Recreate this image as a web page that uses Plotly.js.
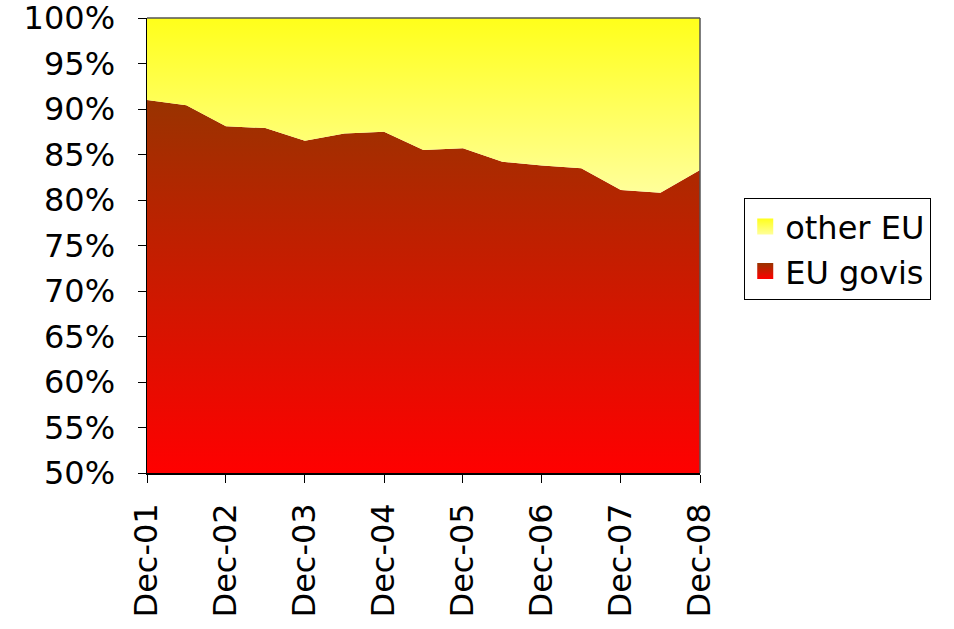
<!DOCTYPE html>
<html>
<head>
<meta charset="utf-8">
<script src="https://cdn.plot.ly/plotly-3.0.1.min.js"></script>
<style>html,body{margin:0;padding:0;background:#fff}</style>
</head>
<body>
<div id="chart" style="width:954px;height:629px"></div>
<script>
const periods = ['2001-12-01','2002-06-01','2002-12-01','2003-06-01','2003-12-01','2004-06-01','2004-12-01','2005-06-01','2005-12-01','2006-06-01','2006-12-01','2007-06-01','2007-12-01','2008-06-01','2008-12-01'];
const euGovis = [0.910, 0.904, 0.881, 0.879, 0.865, 0.873, 0.875, 0.855, 0.857, 0.842, 0.838, 0.835, 0.811, 0.808, 0.833];
const otherEU = euGovis.map(v => 1 - v);
const stackTop = euGovis.map((v, i) => v + otherEU[i]);
const tickDates = ['2001-12-01','2002-12-01','2003-12-01','2004-12-01','2005-12-01','2006-12-01','2007-12-01','2008-12-01'];
const tickLabels = ['Dec-01','Dec-02','Dec-03','Dec-04','Dec-05','Dec-06','Dec-07','Dec-08'];
const yTicks = [0.5,0.55,0.6,0.65,0.7,0.75,0.8,0.85,0.9,0.95,1.0];

const font = 'DejaVu Sans, Verdana, sans-serif';
const fs = 32;
const traces = [
  {
    x: periods, y: euGovis, name: 'EU govis', type: 'scatter', mode: 'lines',
    line: {width: 0, color: '#b02a00'}, fill: 'tozeroy',
    fillgradient: {type: 'vertical', start: 0.5, stop: 0.91,
      colorscale: [[0, '#ff0000'], [1, '#993300']]},
    hoverinfo: 'skip', showlegend: false
  },
  {
    x: periods, y: stackTop, name: 'other EU', type: 'scatter', mode: 'lines',
    line: {width: 0, color: '#ffff44'}, fill: 'tonexty',
    fillgradient: {type: 'vertical', start: 0.81, stop: 1.0,
      colorscale: [[0, '#ffff99'], [1, '#ffff1a']]},
    hoverinfo: 'skip', showlegend: false
  },
  // legend swatches (no data points)
  {
    x: [null], y: [null], name: 'EU govis', type: 'scatter', mode: 'markers',
    marker: {symbol: 'square', size: 22, color: '#993300',
      gradient: {type: 'vertical', color: '#ff0000'}, line: {width: 0}},
    hoverinfo: 'skip'
  },
  {
    x: [null], y: [null], name: 'other EU', type: 'scatter', mode: 'markers',
    marker: {symbol: 'square', size: 22, color: '#ffff1a',
      gradient: {type: 'vertical', color: '#ffff99'}, line: {width: 0}},
    hoverinfo: 'skip'
  }
];

const layout = {
  width: 954, height: 629,
  margin: {l: 147, r: 254, t: 18, b: 156, pad: 0},
  paper_bgcolor: '#ffffff', plot_bgcolor: '#ffffff',
  font: {family: font, size: fs, color: '#000'},
  showlegend: true,
  legend: {
    x: 1.08, y: 0.604, xanchor: 'left', yanchor: 'top',
    bgcolor: '#ffffff', bordercolor: '#000', borderwidth: 1,
    traceorder: 'reversed', font: {family: font, size: fs, color: '#000'},
    itemsizing: 'trace', tracegroupgap: 0, itemwidth: 30
  },
  xaxis: {
    type: 'date', range: [periods[0], periods[periods.length - 1]],
    tickmode: 'array', tickvals: tickDates, ticktext: tickLabels,
    tickangle: -90, ticks: 'outside', ticklen: 8, tickcolor: '#000',
    ticklabelstandoff: 8, ticklabeloverflow: 'allow',
    showline: true, linecolor: '#000', linewidth: 1.5, mirror: false,
    showgrid: false, zeroline: false,
    tickfont: {family: font, size: fs, color: '#000'}
  },
  yaxis: {
    range: [0.5, 1.0], tickmode: 'array', tickvals: yTicks,
    tickformat: '.0%', ticks: 'outside', ticklen: 8, tickcolor: '#000',
    ticklabelstandoff: 16, ticklabeloverflow: 'allow',
    showline: true, linecolor: '#000', linewidth: 1.5, mirror: false,
    showgrid: false, zeroline: false,
    tickfont: {family: font, size: fs, color: '#000'}
  },
  shapes: [
    {type: 'line', xref: 'paper', yref: 'paper', x0: 0, x1: 1, y0: 1, y1: 1,
      line: {color: '#555', width: 1.5}, layer: 'above'},
    {type: 'line', xref: 'paper', yref: 'paper', x0: 1, x1: 1, y0: 0, y1: 1,
      line: {color: '#555', width: 1.5}, layer: 'above'}
  ]
};

Plotly.newPlot('chart', traces, layout, {displayModeBar: false, staticPlot: true});
</script>
</body>
</html>
